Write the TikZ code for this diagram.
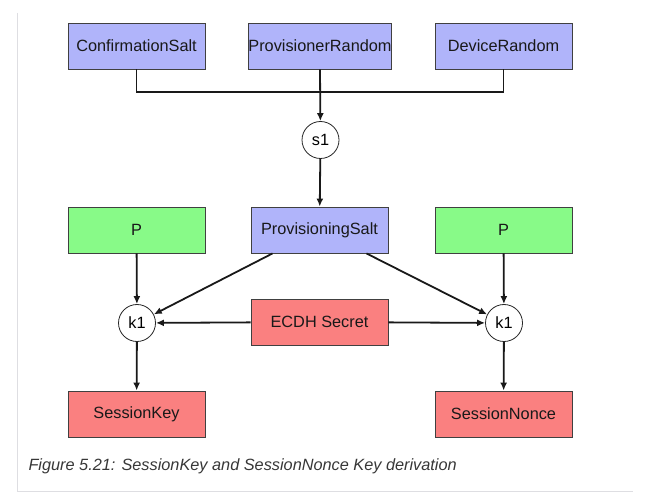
\documentclass[tikz,border=0pt]{standalone}
\usepackage{fontspec}
\setmainfont{Liberation Sans}
\usetikzlibrary{arrows.meta}

\definecolor{saltblue}{RGB}{176,180,250}
\definecolor{pgreen}{RGB}{136,250,136}
\definecolor{keyred}{RGB}{250,128,128}
\definecolor{framegray}{RGB}{222,222,226}
\definecolor{captgray}{RGB}{55,55,55}

\begin{document}
\begin{tikzpicture}[x=1pt,y=-1pt,>={Latex[length=8pt,width=7pt]},
	box/.style={draw=black!75,line width=0.9pt,minimum width=137pt,minimum height=46pt,
		inner sep=0pt,text=black!90,font=\fontsize{16.3}{19}\selectfont},
	fn/.style={draw=black!85,line width=0.8pt,circle,minimum size=37pt,inner sep=0pt,
		fill=white,font=\fontsize{16.3}{19}\selectfont},
	wire/.style={line width=1.8pt,black!90}]
	
	\useasboundingbox (0,0) rectangle (645,502);
	
	% Frame
	\draw[framegray,line width=1pt] (17,13) -- (17,491) -- (633,491);
	
	% Inputs of s1
	\node[box,fill=saltblue] (cs) at (136.5,46) {ConfirmationSalt};
	\node[box,fill=saltblue] (pr) at (320,46) {ProvisionerRandom};
	\node[box,fill=saltblue] (dr) at (503.5,46) {DeviceRandom};
	\node[fn] (s1) at (320.5,140) {s1};
	
	\coordinate (bus) at (320,92);
	\draw[wire] (cs.south) |- (bus) -| (dr.south);
	\draw[wire,->] (pr.south) -- (s1);
	
	% Salt and P
	\node[box,fill=saltblue] (ps) at (319.5,230) {ProvisioningSalt};
	\node[box,fill=pgreen] (pl) at (136.5,230) {P};
	\node[box,fill=pgreen] (pr2) at (503.5,230) {P};
	\draw[wire,->] (s1) -- (ps);
	
	% k1 nodes
	\node[fn] (k1l) at (137,323) {k1};
	\node[fn] (k1r) at (504,323) {k1};
	\node[box,fill=keyred] (ecdh) at (319.5,322) {ECDH Secret};
	
	\draw[wire,->] (pl) -- (k1l);
	\draw[wire,->] (pr2) -- (k1r);
	\draw[wire,->] ([xshift=-47pt]ps.south) -- (k1l);
	\draw[wire,->] ([xshift=47pt]ps.south) -- (k1r);
	\draw[wire,->] (ecdh) -- (k1l);
	\draw[wire,->] (ecdh) -- (k1r);
	
	% Outputs
	\node[box,fill=keyred] (sk) at (136.5,414) {SessionKey};
	\node[box,fill=keyred] (sn) at (503.5,414) {SessionNonce};
	\draw[wire,->] (k1l) -- (sk);
	\draw[wire,->] (k1r) -- (sn);
	
	% Caption
	\node[anchor=west,text=captgray,font=\fontsize{16.3}{19}\selectfont\itshape] (cap) at (25,466)
		{Figure 5.21: SessionKey and SessionNonce Key derivation};
	
\end{tikzpicture}
\end{document}
